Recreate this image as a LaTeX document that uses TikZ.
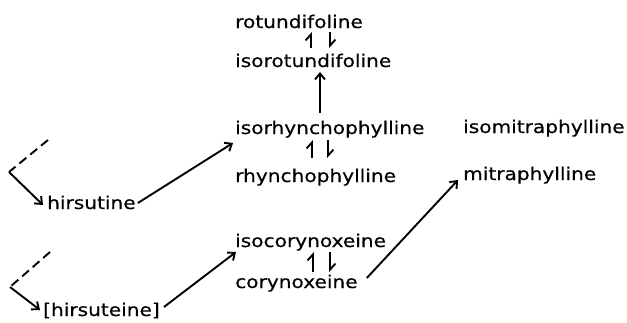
\documentclass[tikz,border=0pt]{standalone}
\usepackage{fontspec}
\newfontfamily\chemfont{DejaVu Sans}[FakeStretch=1.15,FakeBold=0.5]
\usetikzlibrary{arrows.meta,calc}
\begin{document}
\begin{tikzpicture}[x=1pt,y=-1pt,
  chem/.style={anchor=base west,inner sep=0pt,font=\chemfont\fontsize{17.5}{20}\selectfont},
  rx/.style={line width=1.9pt,-{Straight Barb[length=6pt,width=10pt,line width=1.9pt]}},
  eq/.style={line width=1.9pt,-{Straight Barb[left,length=6pt,width=11pt,line width=1.9pt]}},
  brokenline/.style={line width=1.9pt,dash pattern=on 9pt off 5pt}]
\useasboundingbox (0,0) rectangle (627,322);

% compounds
\node[chem] (rot)    at (235,28)  {rotundifoline};
\node[chem] (isorot) at (235,67)  {isorotundifoline};
\node[chem] (isorh)  at (235,134) {isorhynchophylline};
\node[chem] (rh)     at (235,182) {rhynchophylline};
\node[chem] (isomit) at (463,133) {isomitraphylline};
\node[chem] (mit)    at (463,180) {mitraphylline};
\node[chem] (hirs)   at (47,209)  {hirsutine};
\node[chem] (isocor) at (235,247) {isocorynoxeine};
\node[chem] (cor)    at (235,288) {corynoxeine};
\node[chem] (hirse)  at (43,316)  {[hirsuteine]};

% conversions
\draw[rx] ($(hirs.base east)+(2,-6)$) -- ($(isorh.base west)+(-2,9)$);
\draw[rx] ($(hirse.base east)+(4,-9)$) -- ($(isocor.base west)+(1,5)$);
\draw[rx] ($(cor.base east)+(9,-10)$) -- ($(mit.base west)+(-5,0)$);
\draw[rx] ($(isorh.base west)+(85,-21)$) -- ($(isorot.base west)+(85,5)$);

% equilibria
\draw[eq] ($(isorot.base west)+(76,-19)$) -- ($(rot.base west)+(76,4)$);
\draw[eq] ($(rot.base west)+(95,4)$) -- ($(isorot.base west)+(95,-19)$);
\draw[eq] ($(rh.base west)+(77,-24)$) -- ($(isorh.base west)+(77,6)$);
\draw[eq] ($(isorh.base west)+(93,6)$) -- ($(rh.base west)+(93,-24)$);
\draw[eq] ($(cor.base west)+(78,-16)$) -- ($(isocor.base west)+(78,5)$);
\draw[eq] ($(isocor.base west)+(95,5)$) -- ($(cor.base west)+(95,-16)$);

% precursors
\coordinate (d1) at (48,140);
\coordinate (k1) at (9,172);
\draw[brokenline] (d1) -- (k1);
\draw[rx] (k1) -- ($(hirs.base west)+(-4,-4)$);
\coordinate (d2) at (50,252);
\coordinate (k2) at (10,287);
\draw[brokenline] (d2) -- (k2);
\draw[rx] (k2) -- ($(hirse.base west)+(-3,-6)$);
\end{tikzpicture}
\end{document}
